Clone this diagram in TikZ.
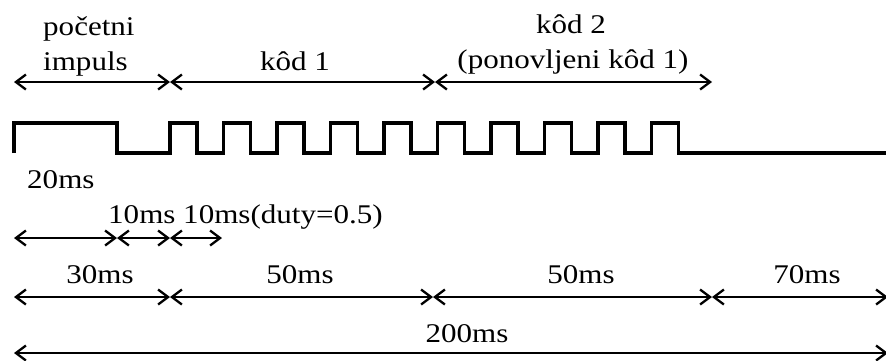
\documentclass[tikz,border=0pt]{standalone}
\usepackage{fontspec}
\setmainfont{Liberation Serif}
\usepackage{graphicx}
\usetikzlibrary{arrows.meta}
\newcommand{\wtxt}[1]{\scalebox{1.15}[1]{#1}}

\begin{document}
\begin{tikzpicture}[x=1pt,y=1pt,
    dim/.style={{Straight Barb[length=10pt,width=15pt]}-{Straight Barb[length=10pt,width=15pt]}, line width=2.3pt},
    wave/.style={line width=3.4pt, line join=miter},
    lbl/.style={inner sep=0pt, anchor=base, font=\fontsize{27}{30}\selectfont}]
    \useasboundingbox (0,0) rectangle (886,-360);

    % Signal: start pulse, then the 10 code pulses, then idle low
    \draw[wave] (14,-153) -- (14,-123) -- (117,-123) -- (117,-153) -- (170,-153)
        \foreach \i in {0,...,9} { -- ++(0,30) -- ++(27,0) -- ++(0,-30) -- ++(26.5,0) }
        -- (886,-153);

    % Top row: sections of the frame
    \coordinate (t0) at (14,-82);  % frame start
    \coordinate (t1) at (170,-82); % end of start pulse
    \coordinate (t2) at (435,-82); % end of code 1
    \coordinate (t3) at (712,-82); % end of code 2
    \draw[dim] (t0) -- (t1);
    \draw[dim] (t1) -- (t2);
    \draw[dim] (t2) -- (t3);
    \node[lbl, anchor=base west] (poc) at (43,-35) {\wtxt{početni}};
    \node[lbl, anchor=base west] (imp) at (43,-70) {\wtxt{impuls}};
    \node[lbl] (kod1) at (295,-70) {\wtxt{kôd 1}};
    \node[lbl] (kod2) at (571,-33) {\wtxt{kôd 2}};
    \node[lbl] (rep) at (573,-68) {\wtxt{(ponovljeni kôd 1)}};

    % Second row: pulse widths
    \node[lbl, anchor=base west] (w20) at (27,-188) {\wtxt{20ms}};
    \coordinate (p0) at (14,-238);
    \coordinate (p1) at (117,-238);
    \coordinate (p2) at (170,-238);
    \coordinate (p3) at (222,-238);
    \draw[dim] (p0) -- (p1);
    \draw[dim] (p1) -- (p2);
    \draw[dim] (p2) -- (p3);
    \node[lbl, anchor=base west] (w10) at (108,-223) {\wtxt{10ms 10ms(duty=0.5)}};

    % Third row: section lengths
    \coordinate (s0) at (14,-297);
    \coordinate (s1) at (170,-297);
    \coordinate (s2) at (433,-297);
    \coordinate (s3) at (712,-297);
    \coordinate (s4) at (888,-297);
    \draw[dim] (s0) -- (s1);
    \draw[dim] (s1) -- (s2);
    \draw[dim] (s2) -- (s3);
    \draw[dim] (s3) -- (s4);
    \node[lbl] (l30) at (100,-283) {\wtxt{30ms}};
    \node[lbl] (l50a) at (300,-283) {\wtxt{50ms}};
    \node[lbl] (l50b) at (581,-283) {\wtxt{50ms}};
    \node[lbl] (l70) at (807,-283) {\wtxt{70ms}};

    % Bottom row: whole frame
    \coordinate (f0) at (14,-353);
    \coordinate (f1) at (888,-353);
    \draw[dim] (f0) -- (f1);
    \node[lbl] (l200) at (467,-342) {\wtxt{200ms}};
\end{tikzpicture}
\end{document}
